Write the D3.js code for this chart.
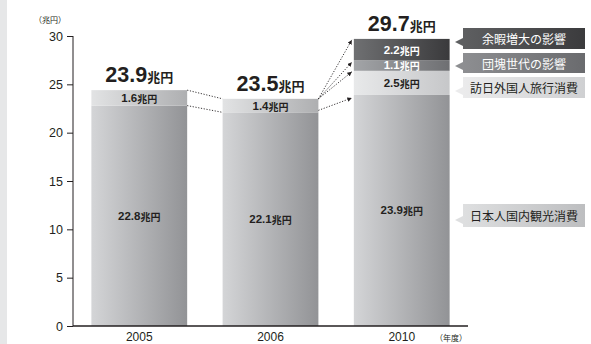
<!DOCTYPE html>
<html>
<head>
<meta charset="utf-8">
<script src="https://cdn.jsdelivr.net/npm/d3@7/dist/d3.min.js"></script>
<style>
  body { margin: 0; background: #fff; }
  svg { display: block; }
  text { font-family: "Liberation Sans", "Noto Sans CJK JP", sans-serif; fill: #231f20; }
  .jp { font-family: "Noto Sans CJK JP", sans-serif; }
</style>
</head>
<body>
<div class="canvas"></div>
<script>
// data
var years = ["2005", "2006", "2010"];
var domestic = [22.8, 22.1, 23.9];   // 日本人国内観光消費
var inbound  = [1.6, 1.4, 2.5];      // 訪日外国人旅行消費
var dankai   = [0, 0, 1.1];          // 団塊世代の影響
var leisure  = [0, 0, 2.2];          // 余暇増大の影響
var totals   = [23.9, 23.5, 29.7];
var yTicks   = [0, 5, 10, 15, 20, 25, 30];
var seriesKeys = ["domestic", "inbound", "dankai", "leisure"];
var legendNames = ["余暇増大の影響", "団塊世代の影響", "訪日外国人旅行消費", "日本人国内観光消費"];

var W = 591, H = 344;
var svg = d3.select("div.canvas").append("svg").attr("width", W).attr("height", H);
var defs = svg.append("defs");

function grad(id, c1, c2) {
    var g = defs.append("linearGradient").attr("id", id)
        .attr("x1", "0%").attr("x2", "100%").attr("y1", "0%").attr("y2", "0%");
    g.append("stop").attr("offset", "0%").attr("stop-color", c1);
    g.append("stop").attr("offset", "100%").attr("stop-color", c2);
}
grad("gDomestic", "#d4d5d7", "#929396");
grad("gInbound05", "#e2e3e4", "#aeafb1");
grad("gInbound", "#e8e9ea", "#c6c7c9");
grad("gDankai", "#a3a5a8", "#6e6f72");
grad("gLeisure", "#6f7072", "#3a3a3c");
grad("lgLeisure", "#5e5f61", "#3b3b3d");
grad("lgDankai", "#8d8e91", "#6a6b6e");
grad("lgInbound", "#ebebec", "#cfd0d2");
grad("lgDomestic", "#dedfe0", "#bdbec0");

// left gray strip
svg.append("rect").attr("x", 0).attr("y", 0).attr("width", 7).attr("height", H).attr("fill", "#e6e7e8");

var x = d3.scaleBand().domain(years).range([73, 468]).paddingInner(0.27).paddingOuter(0.14);
var y = d3.scaleLinear().domain([0, 30]).range([326, 36]);

var rows = years.map(function(yr, i) {
    return {year: yr, domestic: domestic[i], inbound: inbound[i], dankai: dankai[i], leisure: leisure[i], total: totals[i]};
});
var stack = d3.stack().keys(seriesKeys)(rows);

function fillFor(key, yr) {
    if (key == "domestic") return "url(#gDomestic)";
    if (key == "inbound") return yr == "2010" ? "url(#gInbound)" : "url(#gInbound05)";
    if (key == "dankai") return "url(#gDankai)";
    return "url(#gLeisure)";
}

stack.forEach(function(layer) {
    var g = svg.append("g");
    layer.forEach(function(d) {
        var v = d[1] - d[0];
        if (v <= 0) return;
        g.append("rect")
            .attr("x", x(d.data.year))
            .attr("y", y(d[1]))
            .attr("width", x.bandwidth())
            .attr("height", y(d[0]) - y(d[1]))
            .attr("fill", fillFor(layer.key, d.data.year));
        var light = (layer.key == "domestic" || layer.key == "inbound");
        var t = g.append("text")
            .attr("x", x(d.data.year) + x.bandwidth() / 2)
            .attr("y", (y(d[0]) + y(d[1])) / 2)
            .attr("text-anchor", "middle")
            .attr("dominant-baseline", "central")
            .style("font-weight", "bold")
            .style("fill", light ? "#231f20" : "#fff");
        t.append("tspan").style("font-size", "11.5px").style("fill", light ? "#231f20" : "#fff").text(v.toFixed(1));
        t.append("tspan").attr("class", "jp").style("font-size", "10px").style("fill", light ? "#231f20" : "#fff").text("兆円");
    });
});

// totals
rows.forEach(function(d) {
    var top = d.domestic + d.inbound + d.dankai + d.leisure;
    var t = svg.append("text")
        .attr("x", x(d.year) + x.bandwidth() / 2)
        .attr("y", y(top) - 8)
        .attr("text-anchor", "middle")
        .style("font-weight", "bold");
    t.append("tspan").style("font-size", "21.5px").text(d.total.toFixed(1));
    t.append("tspan").attr("class", "jp").style("font-size", "13px").text("兆円");
});

// axes
var yAxis = svg.append("g").attr("transform", "translate(73,0)")
    .call(d3.axisLeft(y).tickValues(yTicks).tickSize(6).tickPadding(4));
yAxis.select(".domain").attr("stroke", "#231f20").attr("d", "M0," + y(30) + "V" + y(0));
yAxis.selectAll(".tick line").attr("stroke", "#231f20");
yAxis.selectAll(".tick text").style("font-size", "12.5px").style("fill", "#231f20")
    .style("font-family", "Liberation Sans, sans-serif");

var xAxis = svg.append("g").attr("transform", "translate(0,326)")
    .call(d3.axisBottom(x).tickSize(0).tickPadding(6));
xAxis.select(".domain").attr("stroke", "#231f20").attr("stroke-width", 1.3).attr("d", "M73,0H468");
xAxis.selectAll(".tick text").style("font-size", "12px").style("fill", "#231f20")
    .style("font-family", "Liberation Sans, sans-serif");

svg.append("text").attr("class", "jp").attr("x", 50).attr("y", 23).attr("text-anchor", "middle")
    .style("font-size", "8px").text("（兆円）");
svg.append("text").attr("class", "jp").attr("x", 451).attr("y", 341).attr("text-anchor", "middle")
    .style("font-size", "8px").text("（年度）");

// dotted connectors
defs.append("marker").attr("id", "arr").attr("viewBox", "0 0 6 6").attr("refX", 6).attr("refY", 3)
    .attr("markerWidth", 5).attr("markerHeight", 5).attr("orient", "auto")
    .append("path").attr("d", "M0,0L6,3L0,6Z").attr("fill", "#231f20");

function cum(i, n) { var s = 0; for (var k = 0; k < n; k++) s += rows[i][seriesKeys[k]]; return s; }
var r0 = x("2005") + x.bandwidth(), l1 = x("2006"), r1 = x("2006") + x.bandwidth(), l2 = x("2010") - 2;
var links = [
    [r0, y(cum(0, 2)), l1, y(cum(1, 2)), false],
    [r0, y(cum(0, 1)), l1, y(cum(1, 1)), false],
    [r1, y(cum(1, 2)), l2, y(cum(2, 4)) + 1, true],
    [r1, y(cum(1, 2)), l2, y(cum(2, 3)) + 2, true],
    [r1, y(cum(1, 2)), l2, y(cum(2, 2)) + 1, true],
    [r1, y(cum(1, 1)) - 2, l2, y(cum(2, 1)) + 3, true]
];
links.forEach(function(d) {
    var ln = svg.append("line").attr("x1", d[0]).attr("y1", d[1]).attr("x2", d[2]).attr("y2", d[3])
        .attr("stroke", "#231f20").attr("stroke-width", 0.9).attr("stroke-dasharray", "1.2,1.6");
    if (d[4]) ln.attr("marker-end", "url(#arr)");
});

// legend callouts
var legendBoxes = [
    {y: 28, h: 21, fill: "url(#lgLeisure)", tip: "#5e5f61", color: "#fff"},
    {y: 53, h: 20, fill: "url(#lgDankai)", tip: "#8d8e91", color: "#fff"},
    {y: 77, h: 21, fill: "url(#lgInbound)", tip: "#ebebec", color: "#231f20"},
    {y: 204, h: 23, fill: "url(#lgDomestic)", tip: "#dedfe0", color: "#231f20"}
];
legendBoxes.forEach(function(b, i) {
    var g = svg.append("g");
    g.append("path")
        .attr("d", "M463," + (b.y + b.h - 11) + "L455," + (b.y + b.h - 7) + "L463," + (b.y + b.h - 3) + "Z")
        .attr("fill", b.tip);
    g.append("rect").attr("x", 463).attr("y", b.y).attr("width", 122).attr("height", b.h).attr("fill", b.fill);
    g.append("text").attr("class", "jp").attr("x", 524).attr("y", b.y + b.h / 2)
        .attr("text-anchor", "middle").attr("dominant-baseline", "central")
        .style("font-size", "12px").style("fill", b.color).text(legendNames[i]);
});
</script>
</body>
</html>
